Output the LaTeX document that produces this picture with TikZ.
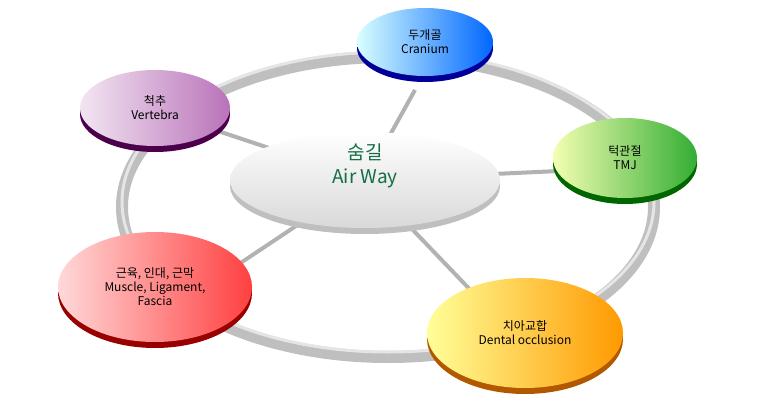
\documentclass[tikz,border=0pt]{standalone}
\usepackage{fontspec}
\setmainfont{Noto Sans CJK KR}
\begin{document}
\begin{tikzpicture}[x=1pt,y=-1pt,
  lbl/.style={align=center,font=\fontsize{12}{14}\selectfont,text=black},
  spoke/.style={line width=4pt,draw=gray!60}]
\useasboundingbox (0,0) rectangle (760,406);
% ring
\draw[line width=12pt,draw=gray!50] (388,207) ellipse (266 and 150);
\draw[line width=3pt,draw=gray!20] (388,202) ellipse (266 and 150);
% spokes
\coordinate (c) at (365,180);
\draw[spoke] (c) -- (415,90);
\draw[spoke] (c) -- (215,130);
\draw[spoke] (c) -- (580,170);
\draw[spoke] (c) -- (230,270);
\draw[spoke] (c) -- (480,300);
% center
\fill[gray!50] (365,186) ellipse (135 and 48);
\shade[top color=white,bottom color=gray!30] (365,180) ellipse (135 and 48);
\node[align=center,text={rgb,255:red,20;green,110;blue,70},font=\fontsize{19}{24}\selectfont] (air) at (365,166) {숨길\\Air Way};
% disks
\newcommand{\disk}[8]{%
 \fill[#7] (#1,#2+6) ellipse (#3 and #4);
 \shade[left color=#5,right color=#6] (#1,#2) ellipse (#3 and #4);
 \node[lbl] (#8) at (#1,#2) {};}
\disk{425}{42}{68}{34}{cyan!15}{blue!60!cyan}{blue!60!black}{cr}
\node[lbl] at (425,42) {두개골\\Cranium};
\disk{155}{108}{75}{38}{violet!10}{violet!55}{violet!60!black}{ve}
\node[lbl] at (155,108) {척추\\Vertebra};
\disk{625}{158}{72}{40}{green!15!yellow!30}{green!60!black!80}{green!40!black}{tm}
\node[lbl] at (625,158) {턱관절\\TMJ};
\disk{155}{287}{97}{55}{red!15}{red!75}{red!60!black}{mu}
\node[lbl] at (155,287) {근육, 인대, 근막\\Muscle, Ligament,\\Fascia};
\disk{525}{333}{98}{55}{yellow!40}{orange!80!yellow}{orange!70!black}{de}
\node[lbl] at (525,333) {치아교합\\Dental occlusion};
\end{tikzpicture}
\end{document}
